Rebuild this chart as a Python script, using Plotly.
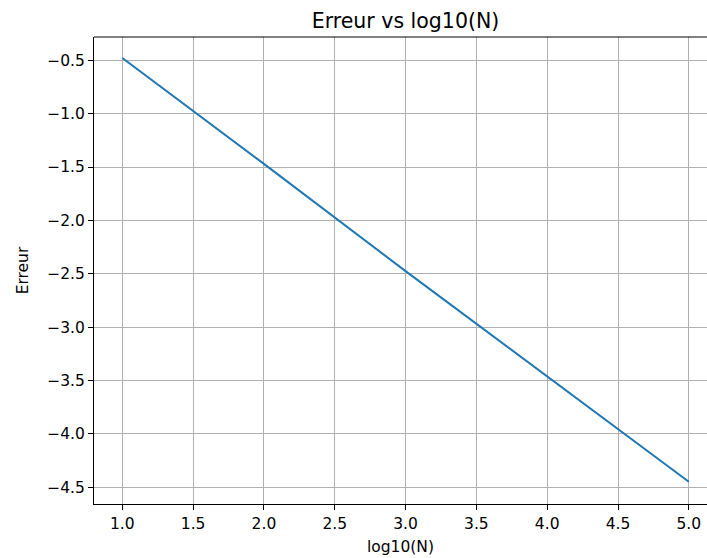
import plotly.graph_objects as go

log10_N = [1.0, 2.0, 3.0, 4.0, 5.0]
erreur = [-0.478, -1.47, -2.475, -3.46, -4.447]

x_ticks = [1.0, 1.5, 2.0, 2.5, 3.0, 3.5, 4.0, 4.5, 5.0]
y_ticks = [-0.5, -1.0, -1.5, -2.0, -2.5, -3.0, -3.5, -4.0, -4.5]

fig = go.Figure()
fig.add_trace(go.Scatter(x=log10_N, y=erreur, mode="lines",
                         line=dict(color="#1f77b4", width=2)))

font = dict(family="DejaVu Sans", size=15.5, color="black")
fig.update_layout(
    width=707, height=558,
    margin=dict(l=94, r=0, t=37, b=54),
    paper_bgcolor="white", plot_bgcolor="white",
    showlegend=False,
    font=font,
    title=dict(text="Erreur vs log10(N)", x=405.5 / 707, xanchor="center",
               y=1 - 21 / 558, yanchor="middle",
               font=dict(family="DejaVu Sans", size=20.5, color="black")),
    xaxis=dict(range=[0.8, 1.0 + (707 - 122) / 141.7], tickvals=x_ticks, tickformat=".1f",
               showgrid=True, gridcolor="#b0b0b0", gridwidth=1,
               showline=True, linecolor="black", linewidth=1,
               ticks="outside", ticklen=5, tickcolor="black", tickwidth=1,
               zeroline=False, automargin=False,
               title=dict(text="log10(N)", standoff=9, font=font)),
    yaxis=dict(range=[-4.656, -0.282], tickvals=y_ticks, tickformat=".1f",
               showgrid=True, gridcolor="#b0b0b0", gridwidth=1,
               showline=True, linecolor="black", linewidth=1,
               ticks="outside", ticklen=5, tickcolor="black", tickwidth=1,
               zeroline=False, automargin=False,
               title=dict(text="Erreur", standoff=14, font=font)),
    shapes=[dict(type="line", xref="paper", yref="paper", x0=0, x1=1, y0=1, y1=1,
                 line=dict(color="black", width=1))],
)

fig.write_html("out.html", config={"displayModeBar": False},
               post_script="document.body.style.margin='0';document.body.style.overflow='hidden';")
